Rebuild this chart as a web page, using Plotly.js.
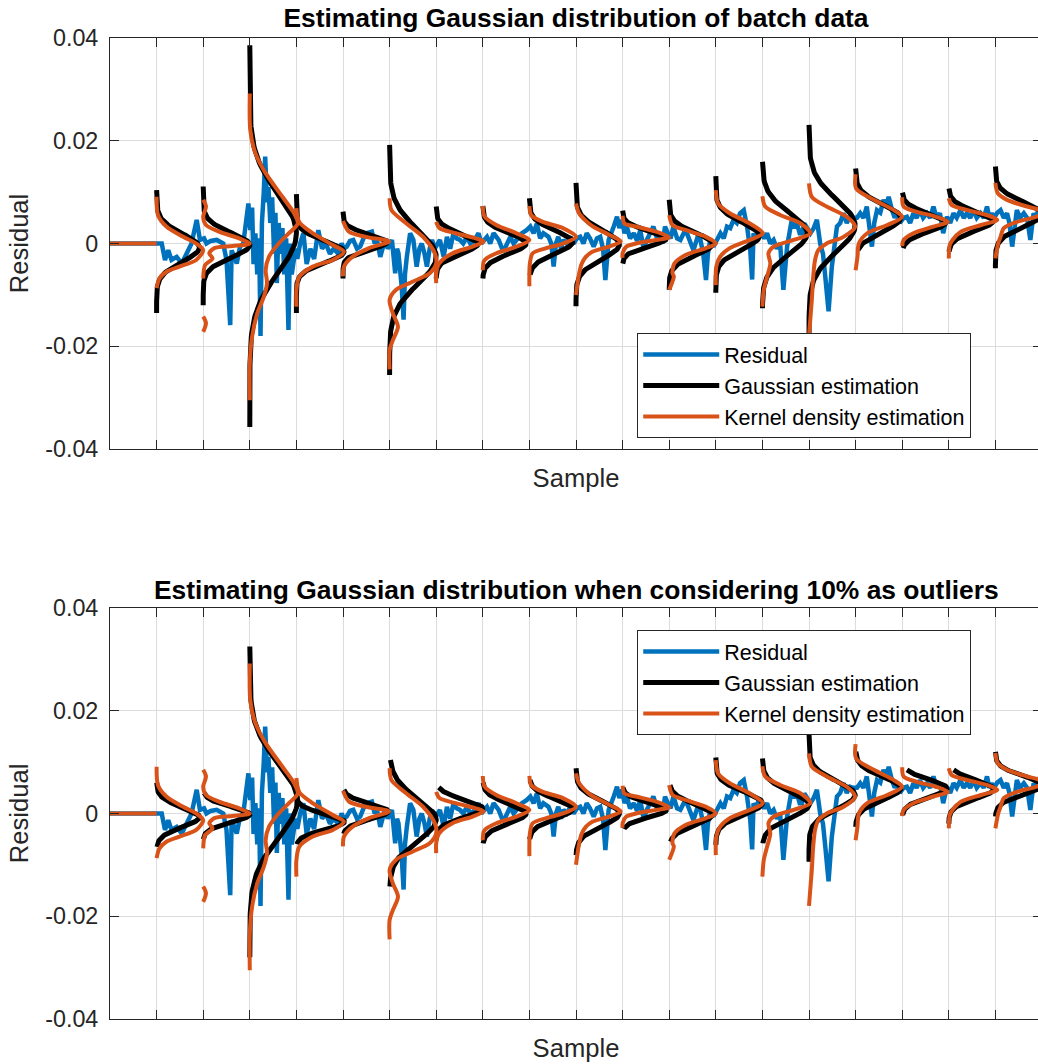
<!DOCTYPE html>
<html><head><meta charset="utf-8">
<script src="https://cdn.plot.ly/plotly-3.0.1.min.js"></script>
<style>html,body{margin:0;padding:0;overflow:hidden;background:#fff;width:1038px;height:1064px}</style>
</head><body><div id="chart" style="width:1042px;height:1064px"></div>
<script>
// ---------- data ----------
const batchSize = 100;
const batchIndex = [1,2,3,4,5,6,7,8,9,10,11,12,13,14,15,16,17,18,19];

const residualSample = [0,100,
 111,118,125,132,143,154,165,175,186,193,
 202,207,216,229,243,250,258,261,272,279,286,297,
 301,305,308,312,316,320,323,326,330,333,337,340,344,348,352,355,358,362,366,370,374,378,383,386,390,394,398,
 402,408,415,422,430,438,447,455,463,472,480,490,497,
 502,508,515,522,530,537,544,551,562,568,573,580,585,590,596,
 605,612,616,619,622,626,630,633,637,644,651,658,664,669,675,680,686,691,697,
 708,716,723,730,737,744,751,758,766,773,780,791,797,
 809,816,823,834,844,852,859,866,873,884,894,
 902,909,916,923,930,941,947,952,957,962,968,973,980,988,995,
 1002,1009,1016,1023,1030,1038,1045,1052,1058,1063,1070,1076,1081,1088,1093,1099,
 1104,1109,1116,1124,1131,1138,1145,1152,1159,1166,1174,1181,1186,1191,1197,
 1203,1209,1217,1224,1231,1238,1245,1252,1260,1267,1273,1279,1283,1288,1295,
 1303,1310,1317,1324,1331,1338,1345,1352,1360,1367,1374,1378,1381,1387,1392,1398,
 1404,1410,1417,1424,1431,1438,1445,1453,1458,1463,1469,1474,1480,1485,1490,1496,
 1503,1510,1517,1524,1530,1535,1542,1549,1555,1560,1567,1574,1581,1588,1595,
 1603,1610,1617,1624,1630,1635,1640,1646,1653,1660,1666,1671,1678,1684,1689,1695,
 1703,1710,1717,1724,1731,1738,1745,1753,1760,1767,1774,1781,1788,1796,
 1803,1810,1817,1825,1832,1839,1846,1853,1860,1868,1875,1882,1887,1892,1897,
 1904,1911,1918,1925,1930,1936,1941,1946,1953,1961,1968,1975,1982,1987,1992,2000];
const residualValue = [0,0,
 0.0,-0.0032,-0.0013,-0.0032,-0.0026,-0.0039,-0.0019,0.0,0.0046,0.0007,
 0.001,0.0,0.0005,0.0007,0.0,-0.0032,-0.0159,-0.0013,-0.0039,-0.0006,0.0,0.0078,
 0.0026,0.007,-0.004,0.002,-0.006,0.001,-0.018,0.004,0.010,0.0169,0.008,0.011,0.004,0.009,-0.002,0.006,-0.0077,0.004,-0.002,0.003,-0.006,0.001,-0.0168,0.0,-0.006,-0.003,-0.001,
 -0.003,0.0,0.002,-0.004,-0.001,-0.003,0.0026,-0.001,0.0,-0.002,-0.001,-0.002,0.0,
 -0.001,-0.0006,0.0005,0.0007,-0.001,-0.0006,0.001,0.002,0.0023,0.0,0.0007,-0.0026,-0.001,0.0007,-0.001,
 0.0007,-0.0058,-0.001,-0.0019,-0.004,-0.0084,-0.0148,-0.006,-0.0026,0.002,0.0007,-0.0045,-0.001,0.0,-0.002,-0.0045,-0.001,0.0007,-0.001,
 0.0007,-0.0026,0.0013,-0.001,0.002,0.001,0.0007,0.0,0.0013,0.0,0.0004,0.002,0.0,
 0.0013,0.0,0.002,0.0007,-0.0016,0.0,0.0013,0.0,0.0007,0.002,0.0026,
 0.0033,0.002,0.0039,0.001,0.002,0.0013,0.0,-0.0045,0.0,0.0013,-0.001,0.0007,0.0,0.0013,0.0,
 0.001,0.0013,0.0,0.002,0.001,-0.0006,0.001,0.0013,-0.001,-0.0071,0.0007,0.002,0.0033,0.0052,0.003,0.0046,
 0.002,0.0033,0.001,0.002,0.0005,0.0026,-0.001,0.0007,0.002,0.0033,0.001,0.0013,0.0,0.0033,0.002,
 0.001,0.0033,0.001,0.0007,0.002,0.002,0.0,-0.0013,0.001,0.0007,-0.002,-0.0071,-0.002,0.0007,-0.0006,
 0.001,0.002,0.001,0.0033,0.003,0.0046,0.004,0.0059,0.0065,0.0033,-0.0013,-0.007,0.002,0.001,0.0026,0.002,
 0.001,0.002,0.0,0.0007,-0.001,0.0,-0.009,-0.0006,0.002,0.0046,0.003,0.0039,0.002,0.002,0.0039,0.003,
 0.002,0.003,0.0046,0.0,-0.002,-0.0065,-0.0132,-0.0045,0.0,0.0033,0.004,0.0059,0.004,0.0052,0.005,
 0.005,0.0059,0.005,0.0072,0.003,-0.0006,0.004,0.0065,0.006,0.0085,0.007,0.0091,0.0065,0.005,0.0059,0.004,
 0.005,0.0052,0.004,0.0059,0.005,0.0065,0.005,0.0059,0.005,0.0072,0.005,0.0059,0.002,0.0052,
 0.004,0.0059,0.005,0.0065,0.005,0.0059,0.005,0.0065,0.005,0.0059,0.005,0.0072,0.005,0.0059,0.005,
 0.006,0.0065,0.005,0.0059,0.004,-0.0006,0.004,0.0065,0.005,0.0059,0.005,0.0007,0.0059,0.005,0.0065,0.006];

// Gaussian estimation per batch: whole batch data (top panel)
const gaussMeanAll  = [-0.0008,-0.0003,0.002,-0.0016,0.0003,-0.0026,0.0,0.0,0.0003,-0.0002,0.001,-0.0001,0.0015,0.002,0.0035,0.005,0.0041,0.0044,0.0057];
const gaussSdAll    = [0.0027,0.0024,0.0077,0.0021,0.0015,0.0053,0.0019,0.002,0.0022,0.0028,0.0015,0.0022,0.0026,0.004,0.005,0.0026,0.0018,0.0019,0.0024];
const gaussLowAll   = [-0.0135,-0.012,-0.0357,-0.0135,-0.0068,-0.0256,-0.0068,-0.0068,-0.0061,-0.0122,-0.0039,-0.009,-0.0096,-0.0126,-0.026,-0.0013,-0.0009,-0.0016,-0.0048];
const gaussHighAll  = [0.0104,0.0111,0.0386,0.0096,0.0062,0.0192,0.0072,0.0073,0.0088,0.0118,0.0064,0.0085,0.0131,0.0159,0.0231,0.0146,0.0099,0.0107,0.015];
const gaussPeakAll  = [0.92,1.0,1.0,1.02,0.95,1.0,0.9,0.93,0.93,0.93,0.94,0.93,0.94,0.96,0.99,0.97,0.93,0.95,1.0];

// Gaussian estimation per batch: 10% outliers removed (bottom panel)
const gaussMeanTrim = [-0.0007,-0.0002,0.0025,-0.0016,0.0004,-0.0012,0.001,0.0,0.0009,0.0,0.0007,-0.0002,0.002,0.0017,0.0036,0.0049,0.0049,0.0047,0.0055];
const gaussSdTrim   = [0.0019,0.0015,0.0072,0.0015,0.0015,0.0041,0.0017,0.0019,0.0019,0.0024,0.0014,0.002,0.0022,0.0025,0.0027,0.0022,0.0017,0.0018,0.0018];
const gaussLowTrim  = [-0.0065,-0.005,-0.028,-0.006,-0.004,-0.0142,-0.0052,-0.0058,-0.005,-0.0081,-0.003,-0.0055,-0.0061,-0.0058,-0.0094,-0.0026,-0.0003,-0.002,-0.0006];
const gaussHighTrim = [0.006,0.004,0.0325,0.0035,0.0046,0.0104,0.0051,0.006,0.0065,0.0088,0.005,0.0055,0.0109,0.0107,0.0156,0.012,0.0085,0.0085,0.012];
const gaussPeakTrim = [0.92,1.0,1.02,1.03,0.97,1.0,1.0,0.93,0.93,0.93,0.94,0.93,1.0,1.0,0.99,0.97,0.96,0.96,1.0];

// Kernel density estimate per batch: width (fraction of batch) and residual value
const kdeFlatSample = [0,100];
const kdeFlatValue  = [0,0];
const kdeWidth = [
 [0,0.03,0.21,0.57,0.85,1.0,0.85,0.49,0.21,0.06,0],
 [0,0.06,0,0.06,0.34,0.77,1.0,0.63,0.24,0.13,0.2,0.04,0,null,0,0.06,0],
 [0,0.01,0.12,0.34,0.7,0.95,1.03,0.84,0.62,0.41,0.34,0.37,0.3,0.16,0.05,0,0],
 [0,0.06,0.35,0.78,1.02,0.78,0.35,0.06,0,0],
 [0,0.13,0.49,0.99,0.56,0.2,0.02,0],
 [0,0.04,0.36,0.72,0.97,1.0,0.86,0.5,0.14,0,0.07,0.18,0.07,0,0],
 [0,0.07,0.42,0.85,1.02,0.78,0.35,0.06,0,0],
 [0,0.04,0.29,0.72,1.0,0.72,0.29,0.08,0.02,0],
 [0,0.04,0.29,0.72,1.0,0.72,0.36,0.07,0.01,0],
 [0,0.06,0.2,0.35,0.71,0.96,0.71,0.35,0.21,0.12,0.06,0],
 [0,0.04,0.29,0.72,1.0,0.72,0.29,0.08,0,0],
 [0,0.07,0.36,0.79,1.0,0.79,0.36,0.11,0.07,0.1,0],
 [0,0.05,0.3,0.73,1.01,0.73,0.3,0.09,0.01,0],
 [0,0.06,0.39,0.82,1.03,0.67,0.24,0.13,0.17,0.1,0.03,0],
 [0,0.06,0.38,0.81,0.99,0.74,0.38,0.2,0.13,0.09,0.06,0],
 [0,0.01,0.39,0.82,1.0,0.68,0.25,0.07,0.04,0],
 [0,0.03,0.3,0.73,0.98,0.67,0.24,0.03,0],
 [0,0.06,0.4,0.83,1.04,0.69,0.26,0.08,0.02,0],
 [0,0.05,0.25,0.68,0.92,1.0,0.9,0.46,0.18,0.11,0.06,0]
];
const kdeValue = [
 [0.0091,0.0055,0.0033,0.0013,0.0,-0.0013,-0.0032,-0.0045,-0.0055,-0.0068,-0.0087],
 [0.0085,0.0072,0.0052,0.0036,0.0023,0.001,0.0,-0.0005,-0.0009,-0.0019,-0.0029,-0.0042,-0.0068,null,-0.0142,-0.0155,-0.0172],
 [0.0292,0.0221,0.0176,0.0137,0.0091,0.0059,0.0039,0.002,0.0,-0.0026,-0.0052,-0.0077,-0.0104,-0.0136,-0.0181,-0.0233,-0.0305],
 [0.0069,0.0042,0.002,-0.0003,-0.0016,-0.0032,-0.0045,-0.0065,-0.0091,-0.0123],
 [0.0044,0.0023,0.0013,0.0004,-0.0009,-0.0026,-0.0045,-0.0064],
 [0.0088,0.0065,0.0039,0.0013,-0.0019,-0.0039,-0.0058,-0.0074,-0.009,-0.011,-0.0136,-0.0162,-0.0188,-0.0207,-0.0245],
 [0.0042,0.003,0.002,0.001,0.0004,-0.0006,-0.0019,-0.0039,-0.0058,-0.0077],
 [0.0073,0.0052,0.0036,0.002,0.0007,-0.0006,-0.0019,-0.0029,-0.0035,-0.0052],
 [0.0073,0.0055,0.0042,0.003,0.0013,0.0,-0.0009,-0.0019,-0.0039,-0.0083],
 [0.0078,0.006,0.0045,0.0034,0.0017,0.0004,-0.0006,-0.0016,-0.0026,-0.004,-0.0062,-0.01],
 [0.0054,0.0039,0.0033,0.0023,0.0012,0.0007,0.0,-0.0006,-0.0019,-0.0028],
 [0.0055,0.0036,0.0026,0.0013,0.0,-0.0009,-0.0022,-0.0039,-0.0058,-0.0064,-0.009],
 [0.0104,0.0078,0.0059,0.0039,0.002,0.0007,-0.0009,-0.0026,-0.0045,-0.0081],
 [0.0092,0.0072,0.0055,0.0039,0.002,0.0007,-0.0006,-0.0019,-0.0039,-0.0065,-0.009,-0.0123],
 [0.0117,0.0091,0.0072,0.0052,0.0033,0.0013,0.0,-0.0013,-0.0032,-0.0065,-0.011,-0.018],
 [0.0135,0.0107,0.0085,0.0065,0.0052,0.0036,0.002,0.0,-0.0026,-0.0052],
 [0.009,0.0072,0.0062,0.0052,0.0042,0.0033,0.002,0.0007,-0.0005],
 [0.0088,0.0075,0.0065,0.0055,0.0046,0.0036,0.0023,0.0007,-0.0003,-0.0029],
 [0.0118,0.0098,0.0085,0.0072,0.0066,0.006,0.0053,0.0042,0.003,0.0013,0.0,-0.0029]
];

const legendLabels = ['Residual','Gaussian estimation','Kernel density estimation'];
const colorResidual = '#0072BD', colorGauss = '#000000', colorKde = '#D95319';

// ---------- build curves ----------
function gaussianCurve(mean, sd, low, high, peak) {
  const xs = [], ys = [], n = 140;
  batchIndex.forEach((k, i) => {
    for (let j = 0; j <= n; j++) {
      const y = high[i] - (high[i] - low[i]) * j / n;
      const z = (y - mean[i]) / sd[i];
      xs.push((k + peak[i] * Math.exp(-0.5 * z * z)) * batchSize);
      ys.push(y);
    }
    xs.push(null); ys.push(null);
  });
  return {xs, ys};
}
function kdeCurve() {
  const xs = kdeFlatSample.slice(), ys = kdeFlatValue.slice();
  xs.push(null); ys.push(null);
  batchIndex.forEach((k, i) => {
    kdeWidth[i].forEach((w, j) => {
      xs.push(w === null ? null : (k + w) * batchSize);
      ys.push(kdeValue[i][j]);
    });
    xs.push(null); ys.push(null);
  });
  return {xs, ys};
}

const gAll = gaussianCurve(gaussMeanAll, gaussSdAll, gaussLowAll, gaussHighAll, gaussPeakAll);
const gTrim = gaussianCurve(gaussMeanTrim, gaussSdTrim, gaussLowTrim, gaussHighTrim, gaussPeakTrim);
const kde = kdeCurve();

function panelTraces(xa, ya, g, leg) {
  return [
    {x: residualSample, y: residualValue, xaxis: xa, yaxis: ya, legend: leg, type: 'scatter', mode: 'lines',
     name: legendLabels[0], line: {color: colorResidual, width: 4.5}, hoverinfo: 'skip'},
    {x: g.xs, y: g.ys, xaxis: xa, yaxis: ya, legend: leg, type: 'scatter', mode: 'lines',
     name: legendLabels[1], line: {color: colorGauss, width: 5}, connectgaps: false, hoverinfo: 'skip'},
    {x: kde.xs, y: kde.ys, xaxis: xa, yaxis: ya, legend: leg, type: 'scatter', mode: 'lines',
     name: legendLabels[2], line: {color: colorKde, width: 4, shape: 'spline', smoothing: 0.8}, connectgaps: false, hoverinfo: 'skip'}
  ];
}

const traces = panelTraces('x', 'y', gAll, 'legend').concat(panelTraces('x2', 'y2', gTrim, 'legend2'));

const font = 'Liberation Sans, Arial, Helvetica, sans-serif';
const axisLine = '#262626', gridCol = '#dcdcdc';
const yTicks = [-0.04,-0.02,0,0.02,0.04];
const yTickText = ['-0.04','-0.02','0','0.02','0.04'];

function xAxis(anchor) {
  return {anchor: anchor, domain: [0,1], range: [0, 20*batchSize], dtick: batchSize, tick0: 0,
    showticklabels: false, ticks: 'inside', ticklen: 9, tickcolor: axisLine, tickwidth: 1,
    showgrid: true, gridcolor: gridCol, gridwidth: 1, zeroline: false,
    showline: true, linecolor: axisLine, linewidth: 1, mirror: 'ticks',
    title: {text: 'Sample', font: {family: font, size: 25.6, color: '#262626'}, standoff: 20}};
}
function yAxis(anchor, domain) {
  return {anchor: anchor, domain: domain, range: [-0.04, 0.04], tickvals: yTicks, ticktext: yTickText,
    ticks: 'inside', ticklen: 9, tickcolor: axisLine, tickwidth: 1, ticklabelstandoff: 6,
    tickfont: {family: font, size: 23.3, color: '#262626'},
    showgrid: true, gridcolor: gridCol, gridwidth: 1, zeroline: false,
    showline: true, linecolor: axisLine, linewidth: 1, mirror: 'ticks',
    title: {text: 'Residual', font: {family: font, size: 25.6, color: '#262626'}, standoff: 9}};
}
function legendBox(yTop) {
  return {x: 0.5657, y: yTop, xanchor: 'left', yanchor: 'top', bgcolor: '#ffffff',
    bordercolor: axisLine, borderwidth: 1, font: {family: font, size: 21.5, color: '#000'},
    itemwidth: 76, tracegroupgap: 0, itemclick: false};
}

const layout = {
  width: 1042, height: 1064,
  margin: {l: 110, r: 0, t: 38, b: 45},
  paper_bgcolor: '#ffffff', plot_bgcolor: '#ffffff',
  font: {family: font, color: '#262626'},
  showlegend: true,
  title: {text: 'Estimating Gaussian distribution of batch data', x: 0.5, xref: 'paper', xanchor: 'center',
    y: 1 - 18/1064, yref: 'container', yanchor: 'middle',
    font: {family: font, size: 26.4, weight: 'bold', color: '#000'}},
  annotations: [{text: 'Estimating Gaussian distribution when considering 10% as outliers',
    xref: 'paper', yref: 'paper', x: 0.5, y: (1019-590)/981, xanchor: 'center', yanchor: 'middle',
    showarrow: false, font: {family: font, size: 26.4, weight: 'bold', color: '#000'}}],
  xaxis: xAxis('y'), yaxis: yAxis('x', [0.581, 1]),
  xaxis2: xAxis('y2'), yaxis2: yAxis('x2', [0, 0.419]),
  legend: legendBox((1019-333)/981),
  legend2: legendBox((1019-630)/981)
};

Plotly.newPlot('chart', traces, layout, {staticPlot: true, displayModeBar: false});
</script></body></html>
